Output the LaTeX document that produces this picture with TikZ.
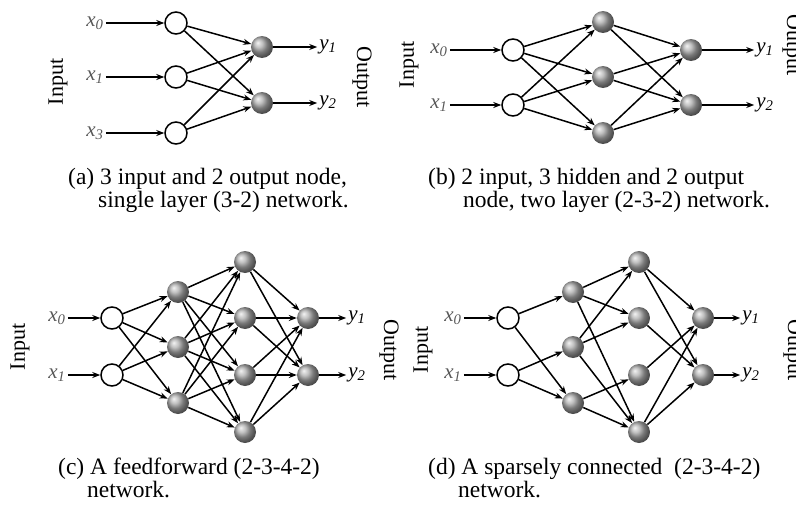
\documentclass[tikz,border=0pt]{standalone}
\usepackage{fontspec}
\setmainfont{Liberation Serif}
\usetikzlibrary{arrows.meta}
\tikzset{
 inp/.style={circle,draw=black,line width=1.5pt,fill=white,minimum size=22pt,inner sep=0pt},
 neu/.style={circle,shading=ball,ball color=gray!65,minimum size=22pt,inner sep=0pt},
 con/.style={line width=1.5pt,-{Stealth[length=8pt,width=6pt]}},
 lab/.style={font=\fontsize{21}{21}\selectfont\itshape,inner sep=2pt},
 xlab/.style={lab,text=black!65},
 captxt/.style={font=\fontsize{23.5}{25}\selectfont,anchor=base west,inner sep=0pt},
 side/.style={font=\fontsize{22}{22}\selectfont,inner sep=0pt},
}
\begin{document}
\begin{tikzpicture}[x=1pt,y=-1pt]
\useasboundingbox (0,0) rectangle (796,506);
\clip (0,0) rectangle (796,506);

% ---------------- panel (a)
\node[xlab] (xa1) at (95,23) {x\textsubscript{0}};
\node[xlab] (xa2) at (95,77) {x\textsubscript{1}};
\node[xlab] (xa3) at (95,133) {x\textsubscript{3}};
\node[inp] (ia1) at (176,23) {};
\node[inp] (ia2) at (176,77) {};
\node[inp] (ia3) at (176,133) {};
\node[neu] (oa1) at (262,47) {};
\node[neu] (oa2) at (262,103) {};
\node[lab] (ya1) at (328,47) {y\textsubscript{1}};
\node[lab] (ya2) at (328,103) {y\textsubscript{2}};
\node[side,rotate=90] (ina) at (58,82) {Input};
\node[side,rotate=-90] (outa) at (362,77) {Output};
\foreach \i in {1,2,3} {
  \draw[con] (xa\i) -- (ia\i);
  \foreach \j in {1,2} \draw[con] (ia\i) -- (oa\j);
}
\foreach \j in {1,2} \draw[con] (oa\j) -- (ya\j);
\node[captxt] (ca1) at (68,184) {(a) 3 input and 2 output node,};
\node[captxt] (ca2) at (98,207) {single layer (3-2) network.};

% ---------------- panel (b)
\node[xlab] (xb1) at (439,50) {x\textsubscript{0}};
\node[xlab] (xb2) at (439,105) {x\textsubscript{1}};
\node[inp] (ib1) at (513,50) {};
\node[inp] (ib2) at (513,105) {};
\node[neu] (hb1) at (603,22) {};
\node[neu] (hb2) at (603,77) {};
\node[neu] (hb3) at (603,133) {};
\node[neu] (ob1) at (691,50) {};
\node[neu] (ob2) at (691,105) {};
\node[lab] (yb1) at (765,50) {y\textsubscript{1}};
\node[lab] (yb2) at (765,105) {y\textsubscript{2}};
\node[side,rotate=90] (inb) at (409,65) {Input};
\node[side,rotate=-90] (outb) at (792,45) {Output};
\foreach \i in {1,2} {
  \draw[con] (xb\i) -- (ib\i);
  \foreach \j in {1,2,3} \draw[con] (ib\i) -- (hb\j);
}
\foreach \i in {1,2,3} \foreach \j in {1,2} \draw[con] (hb\i) -- (ob\j);
\foreach \j in {1,2} \draw[con] (ob\j) -- (yb\j);
\node[captxt] (cb1) at (428,184) {(b) 2 input, 3 hidden and 2 output};
\node[captxt] (cb2) at (463,207) {node, two layer (2-3-2) network.};

% ---------------- panel (c)
\node[xlab] (xc1) at (57,318) {x\textsubscript{0}};
\node[xlab] (xc2) at (57,375) {x\textsubscript{1}};
\node[inp] (ic1) at (112,318) {};
\node[inp] (ic2) at (112,375) {};
\node[neu] (hc1) at (178,292) {};
\node[neu] (hc2) at (178,347) {};
\node[neu] (hc3) at (178,403) {};
\node[neu] (gc1) at (245,262) {};
\node[neu] (gc2) at (245,318) {};
\node[neu] (gc3) at (245,375) {};
\node[neu] (gc4) at (245,432) {};
\node[neu] (oc1) at (308,318) {};
\node[neu] (oc2) at (308,375) {};
\node[lab] (yc1) at (357,318) {y\textsubscript{1}};
\node[lab] (yc2) at (357,375) {y\textsubscript{2}};
\node[side,rotate=90] (inc) at (20,347) {Input};
\node[side,rotate=-90] (outc) at (389,350) {Output};
\foreach \i in {1,2} {
  \draw[con] (xc\i) -- (ic\i);
  \foreach \j in {1,2,3} \draw[con] (ic\i) -- (hc\j);
}
\foreach \i in {1,2,3} \foreach \j in {1,2,3,4} \draw[con] (hc\i) -- (gc\j);
\foreach \i in {1,2,3,4} \foreach \j in {1,2} \draw[con] (gc\i) -- (oc\j);
\foreach \j in {1,2} \draw[con] (oc\j) -- (yc\j);
\node[captxt] (cc1) at (58,474) {(c) A feedforward (2-3-4-2)};
\node[captxt] (cc2) at (87,497) {network.};

% ---------------- panel (d)
\node[xlab] (xd1) at (453,318) {x\textsubscript{0}};
\node[xlab] (xd2) at (453,375) {x\textsubscript{1}};
\node[inp] (id1) at (508,318) {};
\node[inp] (id2) at (508,375) {};
\node[neu] (hd1) at (573,292) {};
\node[neu] (hd2) at (573,347) {};
\node[neu] (hd3) at (573,403) {};
\node[neu] (gd1) at (639,262) {};
\node[neu] (gd2) at (639,318) {};
\node[neu] (gd3) at (639,375) {};
\node[neu] (gd4) at (639,432) {};
\node[neu] (od1) at (703,318) {};
\node[neu] (od2) at (703,375) {};
\node[lab] (yd1) at (751,318) {y\textsubscript{1}};
\node[lab] (yd2) at (751,375) {y\textsubscript{2}};
\node[side,rotate=90] (ind) at (423,350) {Input};
\node[side,rotate=-90] (outd) at (793,350) {Output};
\foreach \i in {1,2} \draw[con] (xd\i) -- (id\i);
\foreach \a/\b in {id1/hd1,id1/hd3,id2/hd2,id2/hd3,
  hd1/gd1,hd1/gd2,hd1/gd4,hd2/gd1,hd2/gd2,hd2/gd4,hd3/gd3,hd3/gd4,
  gd1/od1,gd1/od2,gd2/od2,gd3/od1,gd4/od1,gd4/od2}
  \draw[con] (\a) -- (\b);
\foreach \j in {1,2} \draw[con] (od\j) -- (yd\j);
\node[captxt] (cd1) at (428,474) {(d) A sparsely connected\ \ (2-3-4-2)};
\node[captxt] (cd2) at (458,497) {network.};
\end{tikzpicture}
\end{document}
